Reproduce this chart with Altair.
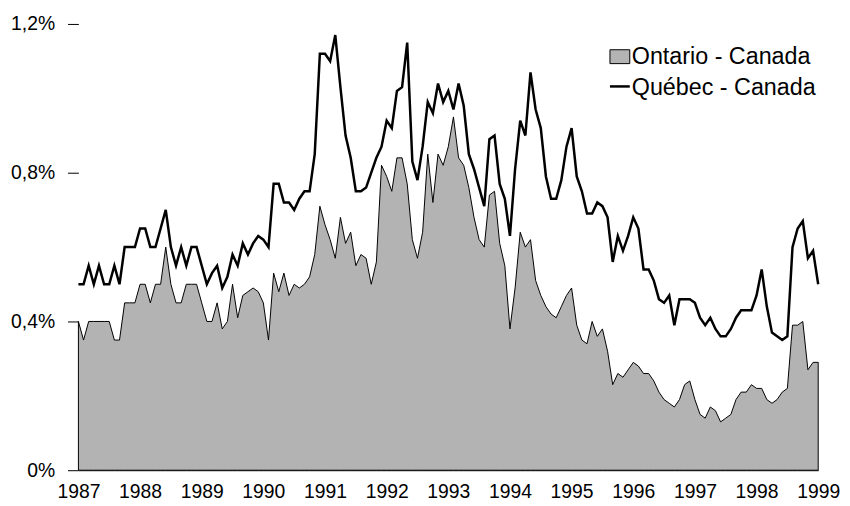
import altair as alt
import pandas as pd

start_year = 1987
ontario = [
    0.40, 0.35, 0.40, 0.40, 0.40, 0.40, 0.40, 0.35, 0.35, 0.45, 0.45, 0.45,
    0.50, 0.50, 0.45, 0.50, 0.50, 0.60, 0.50, 0.45, 0.45, 0.50, 0.50, 0.50,
    0.45, 0.40, 0.40, 0.45, 0.38, 0.40, 0.50, 0.41, 0.47, 0.48, 0.49, 0.48,
    0.45, 0.35, 0.53, 0.48, 0.53, 0.47, 0.50, 0.49, 0.50, 0.52, 0.58, 0.71,
    0.66, 0.62, 0.57, 0.68, 0.61, 0.64, 0.55, 0.58, 0.57, 0.50, 0.56, 0.82,
    0.79, 0.75, 0.84, 0.84, 0.77, 0.62, 0.57, 0.64, 0.85, 0.72, 0.85, 0.82,
    0.87, 0.95, 0.84, 0.82, 0.76, 0.68, 0.62, 0.60, 0.74, 0.75, 0.61, 0.55,
    0.38, 0.49, 0.64, 0.60, 0.62, 0.51, 0.47, 0.44, 0.42, 0.41, 0.44, 0.47,
    0.49, 0.39, 0.35, 0.34, 0.40, 0.36, 0.38, 0.32, 0.23, 0.26, 0.25, 0.27,
    0.29, 0.28, 0.26, 0.26, 0.24, 0.21, 0.19, 0.18, 0.17, 0.19, 0.23, 0.24,
    0.19, 0.15, 0.14, 0.17, 0.16, 0.13, 0.14, 0.15, 0.19, 0.21, 0.21, 0.23,
    0.22, 0.22, 0.19, 0.18, 0.19, 0.21, 0.22, 0.39, 0.39, 0.40, 0.27, 0.29,
    0.29,
]
quebec = [
    0.50, 0.50, 0.55, 0.50, 0.55, 0.50, 0.50, 0.55, 0.50, 0.60, 0.60, 0.60,
    0.65, 0.65, 0.60, 0.60, 0.65, 0.70, 0.60, 0.55, 0.60, 0.55, 0.60, 0.60,
    0.55, 0.50, 0.53, 0.55, 0.49, 0.52, 0.58, 0.55, 0.61, 0.58, 0.61, 0.63,
    0.62, 0.60, 0.77, 0.77, 0.72, 0.72, 0.70, 0.73, 0.75, 0.75, 0.85, 1.12,
    1.12, 1.10, 1.17, 1.03, 0.90, 0.84, 0.75, 0.75, 0.76, 0.80, 0.84, 0.87,
    0.94, 0.92, 1.02, 1.03, 1.15, 0.83, 0.78, 0.87, 0.99, 0.96, 1.04, 0.99,
    1.02, 0.97, 1.04, 0.98, 0.85, 0.81, 0.76, 0.71, 0.89, 0.90, 0.77, 0.73,
    0.63, 0.81, 0.94, 0.90, 1.07, 0.97, 0.92, 0.79, 0.73, 0.73, 0.78, 0.87,
    0.92, 0.79, 0.75, 0.69, 0.69, 0.72, 0.71, 0.68, 0.56, 0.63, 0.59, 0.63,
    0.68, 0.65, 0.54, 0.54, 0.51, 0.46, 0.45, 0.47, 0.39, 0.46, 0.46, 0.46,
    0.45, 0.41, 0.39, 0.41, 0.38, 0.36, 0.36, 0.38, 0.41, 0.43, 0.43, 0.43,
    0.47, 0.54, 0.44, 0.37, 0.36, 0.35, 0.36, 0.60, 0.65, 0.67, 0.57, 0.59,
    0.50,
]
year_ticks = list(range(1987, 2000))
y_ticks = [0, 0.4, 0.8, 1.2]
legend_labels = ["Ontario - Canada", "Québec - Canada"]

t = [start_year + i / 12 for i in range(len(ontario))]
df = pd.DataFrame({"t": t, "ontario": ontario, "quebec": quebec})

FONT = "Liberation Sans"
xscale = alt.Scale(domain=[1987, 1999], nice=False, zero=False)
yscale = alt.Scale(domain=[0, 1.2], nice=False, zero=True)

x_axis = alt.Axis(
    values=year_ticks, format="d", title=None, ticks=False, labelPadding=13,
    labelFontSize=19.5, labelColor="black", labelFont=FONT, domainColor="black",
    domainWidth=1, grid=False, labelFlush=False, labelOverlap=False,
)
y_axis = alt.Axis(
    values=y_ticks, title=None, domain=False, tickSize=11, tickColor="black",
    tickWidth=1, labelPadding=13, grid=False, labelFontSize=19.5,
    labelColor="black", labelFont=FONT, labelOverlap=False,
    labelExpr="datum.value == 0 ? '0%' : replace(format(datum.value, '.1f'), '.', ',') + '%'",
)

area = alt.Chart(df).mark_area(
    fill="#b3b3b3", stroke="black", strokeWidth=1
).encode(
    x=alt.X("t:Q", scale=xscale, axis=x_axis),
    y=alt.Y("ontario:Q", scale=yscale, axis=y_axis),
)

line = alt.Chart(df).mark_line(color="black", strokeWidth=2.5).encode(
    x=alt.X("t:Q", scale=xscale),
    y=alt.Y("quebec:Q", scale=yscale),
)

leg_box = alt.Chart(pd.DataFrame({"k": [0]})).mark_rect(
    fill="#b3b3b3", stroke="black", strokeWidth=1
).encode(
    x=alt.value(536), x2=alt.value(556), y=alt.value(26), y2=alt.value(40)
)
leg_line = alt.Chart(pd.DataFrame({"k": [0]})).mark_rule(
    color="black", strokeWidth=2.5
).encode(
    x=alt.value(536), x2=alt.value(556), y=alt.value(63)
)
leg_text1 = alt.Chart(pd.DataFrame({"label": [legend_labels[0]]})).mark_text(
    align="left", baseline="middle", fontSize=23.5, font=FONT, color="black"
).encode(x=alt.value(558), y=alt.value(33), text="label:N")
leg_text2 = alt.Chart(pd.DataFrame({"label": [legend_labels[1]]})).mark_text(
    align="left", baseline="middle", fontSize=23.5, font=FONT, color="black"
).encode(x=alt.value(558), y=alt.value(65), text="label:N")

chart = alt.layer(area, line, leg_box, leg_line, leg_text1, leg_text2).properties(
    width=746,
    height=450,
    autosize=alt.AutoSizeParams(type="none"),
    padding={"left": 71, "top": 14, "right": 24, "bottom": 34},
    background="white",
).configure_view(stroke=None)

chart.save("out.html", embed_options={"renderer": "svg", "actions": False})
